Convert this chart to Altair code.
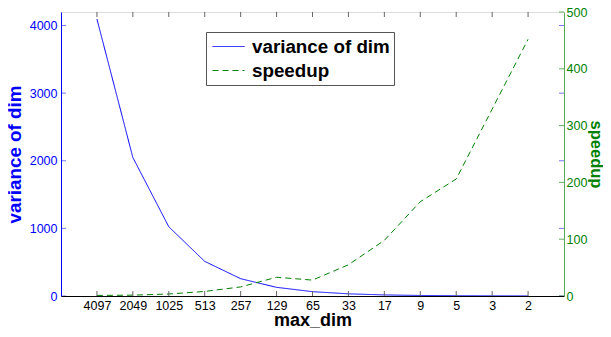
import altair as alt
import pandas as pd

# ---- data ----
max_dim = ['4097', '2049', '1025', '513', '257', '129', '65', '33', '17', '9', '5', '3', '2']
variance = [4096, 2048, 1024, 512, 256, 128, 64, 32, 16, 8, 4, 2, 1]
speedup = [1, 1.5, 3.5, 8, 16, 33, 28, 55, 98, 166, 206, 329, 452]
var_ticks = [0, 1000, 2000, 3000, 4000]
spd_ticks = [0, 100, 200, 300, 400, 500]
series_names = ['variance of dim', 'speedup']

idx = list(range(len(max_dim)))
df = pd.DataFrame({'idx': idx, 'max_dim': max_dim, 'variance': variance, 'speedup': speedup})
df_var = df.assign(series=series_names[0])
df_spd = df.assign(series=series_names[1])
df_vt = pd.DataFrame({'v': var_ticks})
df_st = pd.DataFrame({'v': spd_ticks})

FONT = 'Liberation Sans'
BLUE = '#0000ff'
GREEN = '#008000'
W, H = 503, 284
TFS = 18.8

label_expr = '[' + ','.join(f"'{c}'" for c in max_dim) + '][datum.value]'

xscale = alt.Scale(domain=[-1, len(max_dim)], nice=False, zero=False)
x_axis = alt.Axis(values=idx, labelExpr=label_expr, title='max_dim', ticks=False, grid=False,
                  domainColor='black', labelColor='black', labelFont=FONT, labelFontSize=12.5,
                  labelPadding=3, titleFont=FONT, titleFontSize=18, titleFontWeight='bold',
                  titleColor='black', titlePadding=0, zindex=1)
x = alt.X('idx:Q', scale=xscale, axis=x_axis)

vscale = alt.Scale(domain=[0, 4200], nice=False, zero=True)
sscale = alt.Scale(domain=[0, 500], nice=False, zero=True)

legend = alt.Legend(title=None, orient='none', legendX=145, legendY=20, strokeColor='#555555',
                    fillColor='white', padding=4, rowPadding=3, symbolType='M-1.6,0H1.6',
                    symbolSize=400, symbolStrokeWidth=1, symbolOffset=8, labelFont=FONT,
                    labelFontSize=TFS, labelFontWeight='bold', labelOffset=13, labelColor='black',
                    cornerRadius=0)
color = alt.Color('series:N', scale=alt.Scale(domain=series_names, range=[BLUE, GREEN]), legend=legend)
dash = alt.StrokeDash('series:N', scale=alt.Scale(domain=series_names, range=[[1, 0], [6, 4]]), legend=legend)

blue = alt.Chart(df_var).mark_line(strokeWidth=1).encode(
    x=x,
    y=alt.Y('variance:Q', scale=vscale,
            axis=alt.Axis(orient='left', values=var_ticks, format='d', ticks=False, grid=False,
                          domainColor=BLUE, labelColor=BLUE, labelFont=FONT, labelFontSize=12.5,
                          labelPadding=4, title='variance of dim', titleColor=BLUE, titleFont=FONT,
                          titleFontSize=TFS, titleFontWeight='bold', titlePadding=5, zindex=1)),
    color=color, strokeDash=dash)

green = alt.Chart(df_spd).mark_line(strokeWidth=1).encode(
    x=x,
    y=alt.Y('speedup:Q', scale=sscale,
            axis=alt.Axis(orient='right', values=spd_ticks, format='d', ticks=False, grid=False,
                          domainColor='#55aa55', labelColor=GREEN, labelFont=FONT, labelFontSize=12.5,
                          labelPadding=2, title='speedup', titleColor=GREEN, titleFont=FONT,
                          titleFontSize=16.5, titleFontWeight='bold', titlePadding=1, zindex=1)),
    color=color, strokeDash=dash)

xt_bottom = alt.Chart(df).mark_rule(color='#666666').encode(x=x, y=alt.value(H), y2=alt.value(H - 5))
xt_top = alt.Chart(df).mark_rule(color='#666666').encode(x=x, y=alt.value(0), y2=alt.value(5))
vt_left = alt.Chart(df_vt).mark_rule(color='#7777ff').encode(
    y=alt.Y('v:Q', scale=vscale, axis=None), x=alt.value(0), x2=alt.value(5))
vt_right = alt.Chart(df_vt).mark_rule(color='#7777ff').encode(
    y=alt.Y('v:Q', scale=vscale, axis=None), x=alt.value(W - 5), x2=alt.value(W))
st_right = alt.Chart(df_st).mark_rule(color='#66aa66').encode(
    y=alt.Y('v:Q', scale=sscale, axis=None), x=alt.value(W - 5), x2=alt.value(W))

chart = alt.layer(blue, green, xt_bottom, xt_top, vt_left, vt_right, st_right).resolve_scale(
    y='independent'
).properties(
    width=W, height=H,
    autosize=alt.AutoSizeParams(type='none'),
    padding={'left': 53, 'top': 4, 'right': 39, 'bottom': 33},
).configure_view(stroke='black', strokeWidth=1).configure(font=FONT, background='white')

chart.save('out.html', embed_options={'renderer': 'svg', 'actions': False})
